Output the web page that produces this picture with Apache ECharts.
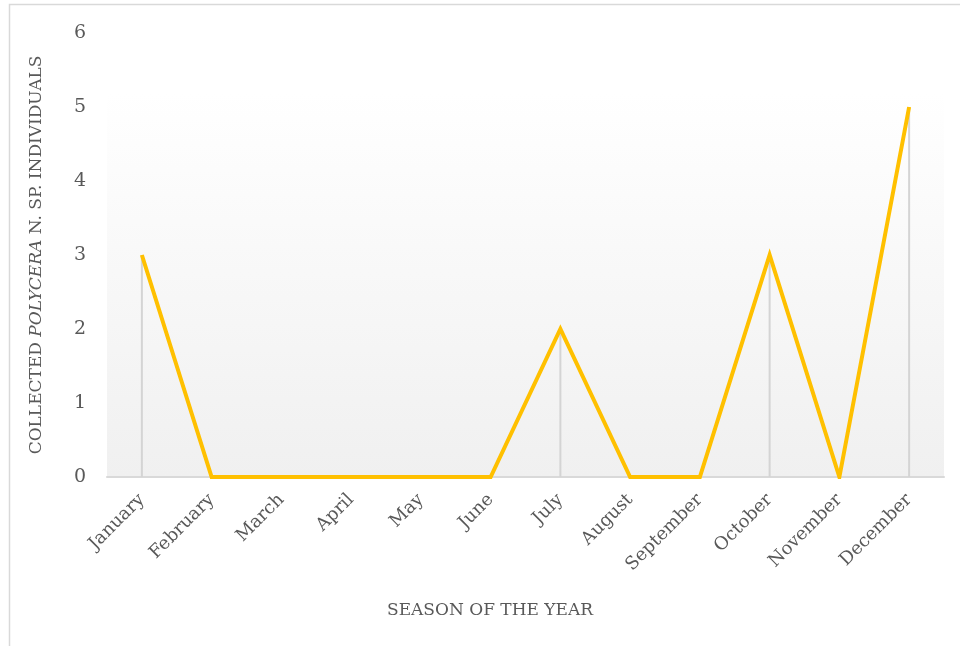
<!DOCTYPE html>
<html>
<head>
<meta charset="utf-8">
<script src="https://cdn.jsdelivr.net/npm/echarts@6/dist/echarts.min.js"></script>
<style>
html,body{margin:0;padding:0;background:#fff;}
#main{width:960px;height:646px;}
</style>
</head>
<body>
<div id="main"></div>
<script>
var months = ['January','February','March','April','May','June','July','August','September','October','November','December'];
var counts = [3,0,0,0,0,0,2,0,0,3,0,5];
var yTicks = [0,1,2,3,4,5,6];

var fontName = 'DejaVu Serif';
var myChart = echarts.init(document.getElementById('main'));
myChart.setOption({
    animation: false,
    backgroundColor: '#fff',
    grid: {
        left: 107,
        right: 16,
        top: 33,
        bottom: 169
    },
    graphic: [
        { // chart border
            type: 'rect', z: -10, silent: true,
            shape: { x: 9.5, y: 4.5, width: 1000, height: 1000 },
            style: { fill: '#fff', stroke: '#d9d9d9', lineWidth: 1.5 }
        },
        { // plot area fill
            type: 'rect', z: -5, silent: true,
            shape: { x: 107, y: 92, width: 837, height: 385 },
            style: {
                fill: new echarts.graphic.LinearGradient(0, 0, 0, 1, [
                    { offset: 0, color: '#ffffff' },
                    { offset: 1, color: '#f0f0f0' }
                ])
            }
        },
        {
            type: 'text', left: 387, top: 602,
            style: { text: 'SEASON OF THE YEAR', fill: '#595959', font: '17px "' + fontName + '"' }
        }
    ],
    xAxis: {
        type: 'category',
        data: months,
        boundaryGap: true,
        axisLine: { show: true, lineStyle: { color: '#d9d9d9', width: 2 } },
        axisTick: { show: false },
        axisLabel: {
            rotate: 45,
            margin: 20,
            color: '#595959',
            fontFamily: fontName,
            fontSize: 18,
            interval: 0
        }
    },
    yAxis: {
        type: 'value',
        min: 0,
        max: yTicks[yTicks.length - 1],
        interval: 1,
        splitLine: { show: false },
        axisLine: { show: false },
        axisTick: { show: false },
        axisLabel: { color: '#595959', fontFamily: fontName, fontSize: 19, margin: 21 },
        name: '{a|COLLECTED }{b|POLYCERA}{a| N. SP. INDIVIDUALS}',
        nameLocation: 'middle',
        nameGap: 62,
        nameRotate: 90,
        nameTextStyle: {
            rich: {
                a: { color: '#595959', fontFamily: fontName, fontSize: 17 },
                b: { color: '#595959', fontFamily: fontName, fontSize: 17, fontStyle: 'italic' }
            }
        }
    },
    series: [
        {
            name: 'drop',
            type: 'bar',
            data: counts,
            barWidth: 2,
            barGap: '-100%',
            z: 1,
            itemStyle: { color: '#d4d4d4' },
            silent: true
        },
        {
            name: 'Polycera',
            type: 'line',
            data: counts,
            z: 3,
            symbol: 'none',
            lineStyle: { color: '#FFC000', width: 4, join: 'miter' }
        }
    ]
});
</script>
</body>
</html>
